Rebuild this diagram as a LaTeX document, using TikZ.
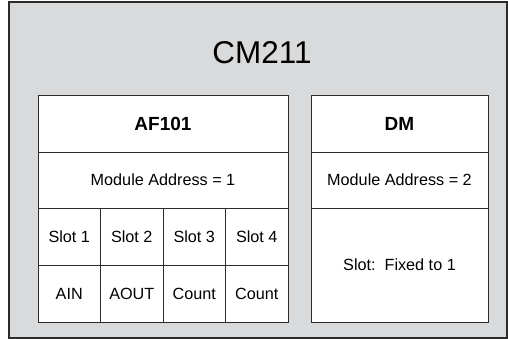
\documentclass[tikz,border=0pt]{standalone}
\usepackage{fontspec}
\setmainfont{Liberation Sans}
\definecolor{panel}{HTML}{D9DADC}
\definecolor{edge}{HTML}{2B2B2B}
\begin{document}
\begin{tikzpicture}[x=1pt,y=-1pt,
  cell/.style={draw=edge,line width=0.9pt,fill=white,inner sep=0pt,
    font=\fontsize{16.2}{19}\selectfont},
  title/.style={cell,font=\fontsize{19}{22}\selectfont\bfseries}]
\useasboundingbox (0,0) rectangle (508,339);
\node[draw=edge,line width=1.4pt,fill=panel,minimum width=498pt,minimum height=336pt,inner sep=0pt]
  (cm) at (258,170) {};
\node[font=\fontsize{31.5}{35}\selectfont] (cmt) at (262,53) {CM211};
% AF101
\node[title,minimum width=250pt,minimum height=57pt] (af) at (163,123.5) {AF101};
\node[cell,minimum width=250pt,minimum height=56pt] (afa) at (163,180) {Module Address = 1};
\node[cell,minimum width=62.5pt,minimum height=57pt] (s1) at (69.25,236.5) {Slot 1};
\node[cell,minimum width=62.5pt,minimum height=57pt] (s2) at (131.75,236.5) {Slot 2};
\node[cell,minimum width=62.5pt,minimum height=57pt] (s3) at (194.25,236.5) {Slot 3};
\node[cell,minimum width=62.5pt,minimum height=57pt] (s4) at (256.75,236.5) {Slot 4};
\node[cell,minimum width=62.5pt,minimum height=57pt] (t1) at (69.25,293.5) {AIN};
\node[cell,minimum width=62.5pt,minimum height=57pt] (t2) at (131.75,293.5) {AOUT};
\node[cell,minimum width=62.5pt,minimum height=57pt] (t3) at (194.25,293.5) {Count};
\node[cell,minimum width=62.5pt,minimum height=57pt] (t4) at (256.75,293.5) {Count};
% DM
\node[title,minimum width=177pt,minimum height=57pt] (dm) at (399.5,123.5) {DM};
\node[cell,minimum width=177pt,minimum height=56pt] (dma) at (399.5,180) {Module Address = 2};
\node[cell,minimum width=177pt,minimum height=114pt] (dms) at (399.5,265) {Slot:\ \ Fixed to 1};
\end{tikzpicture}
\end{document}
